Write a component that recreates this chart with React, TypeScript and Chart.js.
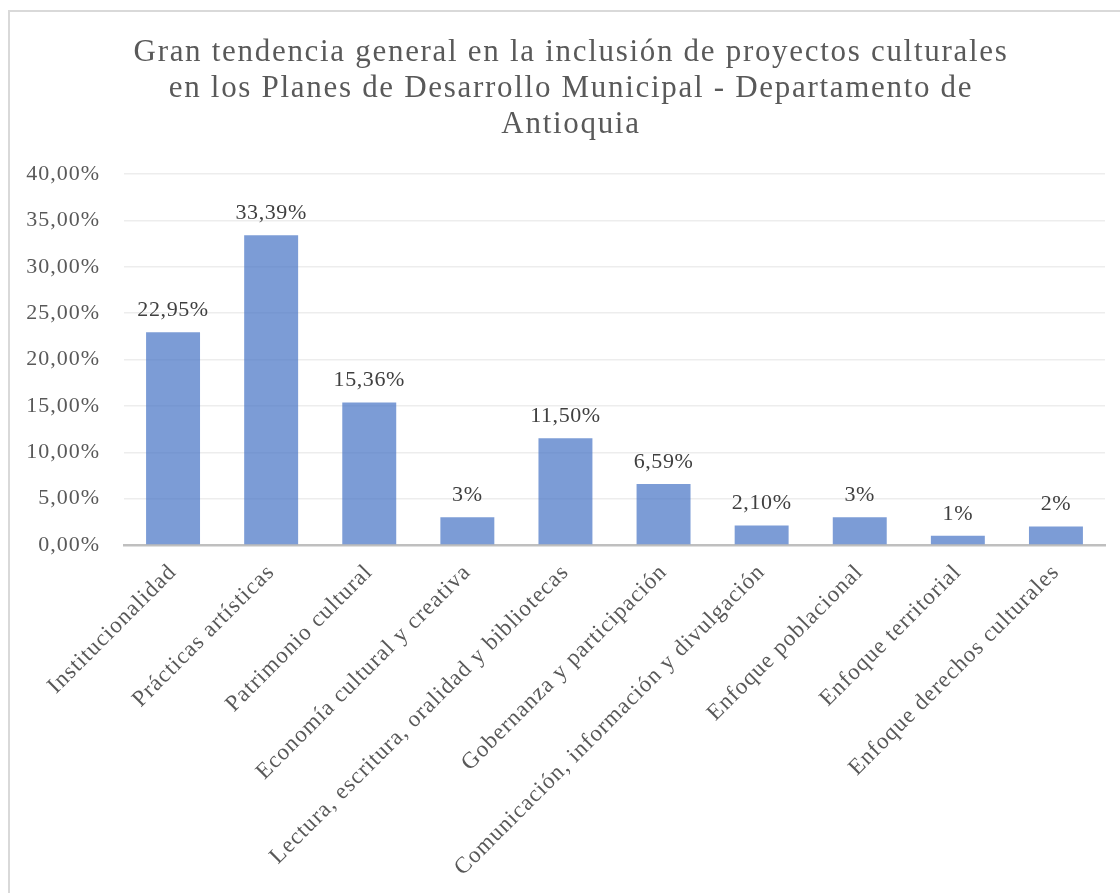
import { useEffect, useRef } from "react";
import { Chart, registerables } from "chart.js";

Chart.register(...registerables);

const titleLines = [
  "Gran tendencia general en la inclusión de proyectos culturales",
  "en los Planes de Desarrollo Municipal - Departamento de",
  "Antioquia",
];

const categories = [
  "Institucionalidad",
  "Prácticas artísticas",
  "Patrimonio cultural",
  "Economía cultural y creativa",
  "Lectura, escritura, oralidad y bibliotecas",
  "Gobernanza y participación",
  "Comunicación, información y divulgación",
  "Enfoque poblacional",
  "Enfoque territorial",
  "Enfoque derechos culturales",
];

const values = [22.95, 33.39, 15.36, 3, 11.5, 6.59, 2.1, 3, 1, 2];

const valueLabels = [
  "22,95%",
  "33,39%",
  "15,36%",
  "3%",
  "11,50%",
  "6,59%",
  "2,10%",
  "3%",
  "1%",
  "2%",
];

const yMin = 0;
const yMax = 40;
const yStep = 5;

const FONT = "'Liberation Serif', 'Times New Roman', serif";

export default function App() {
  const canvasRef = useRef<HTMLCanvasElement | null>(null);

  useEffect(() => {
    if (!canvasRef.current) return;

    const spacingPlugin = {
      id: "letterSpacing",
      beforeDraw(chart: any) {
        chart.ctx.letterSpacing = "1px";
      },
      afterDraw(chart: any) {
        chart.ctx.letterSpacing = "0px";
      },
    };

    const titlePlugin = {
      id: "titleText",
      afterDraw(chart: any) {
        const ctx = chart.ctx;
        ctx.save();
        ctx.letterSpacing = "1.7px";
        ctx.font = `31px ${FONT}`;
        ctx.fillStyle = "#595959";
        ctx.textAlign = "center";
        ctx.textBaseline = "alphabetic";
        titleLines.forEach((line, i) => {
          ctx.fillText(line, 571, 61 + i * 36);
        });
        ctx.restore();
      },
    };

    const dataLabelPlugin = {
      id: "dataLabels",
      afterDatasetsDraw(chart: any) {
        const ctx = chart.ctx;
        const meta = chart.getDatasetMeta(0);
        ctx.save();
        ctx.letterSpacing = "0.6px";
        ctx.font = `22px ${FONT}`;
        ctx.fillStyle = "#404040";
        ctx.textAlign = "center";
        ctx.textBaseline = "middle";
        meta.data.forEach((bar: any, i: number) => {
          ctx.fillText(valueLabels[i], bar.x, bar.y - 22);
        });
        ctx.restore();
      },
    };

    const chart = new Chart(canvasRef.current, {
      type: "bar",
      data: {
        labels: categories,
        datasets: [
          {
            data: values,
            backgroundColor: "rgba(68,114,196,0.7)",
            borderWidth: 0,
            barPercentage: 0.55,
            categoryPercentage: 1,
          },
        ],
      },
      options: {
        animation: false,
        responsive: true,
        maintainAspectRatio: false,
        layout: { padding: { left: 0, right: 15, top: 174, bottom: 0 } },
        plugins: {
          legend: { display: false },
          tooltip: { enabled: false },
          title: { display: false },
        },
        scales: {
          x: {
            grid: { display: false, drawTicks: false },
            border: { display: true, color: "#bfbfbf", width: 2.5 },
            ticks: {
              color: "#595959",
              font: { family: FONT, size: 23 },
              maxRotation: 45,
              minRotation: 45,
              autoSkip: false,
              padding: 14,
            },
            afterFit(scale: any) {
              scale.height = 348;
            },
          },
          y: {
            min: yMin,
            max: yMax,
            grid: { color: "#ededed", lineWidth: 1.5, drawTicks: false },
            border: { display: false },
            ticks: {
              stepSize: yStep,
              color: "#595959",
              font: { family: FONT, size: 22 },
              padding: 24,
              callback: (v: any) => Number(v).toFixed(2).replace(".", ",") + "%",
            },
            afterFit(scale: any) {
              scale.width = 124;
            },
          },
        },
      },
      plugins: [spacingPlugin, dataLabelPlugin, titlePlugin],
    });

    return () => chart.destroy();
  }, []);

  return (
    <div
      style={{
        position: "fixed",
        left: 0,
        top: 0,
        width: 1120,
        height: 893,
        background: "#ffffff",
        overflow: "hidden",
      }}
    >
      <div
        style={{
          position: "absolute",
          left: 8,
          top: 10,
          width: 1200,
          height: 1000,
          borderLeft: "2px solid #d9d9d9",
          borderTop: "2px solid #d9d9d9",
        }}
      />
      <div style={{ position: "absolute", left: 0, top: 0, width: 1120, height: 893 }}>
        <canvas ref={canvasRef} />
      </div>
    </div>
  );
}
